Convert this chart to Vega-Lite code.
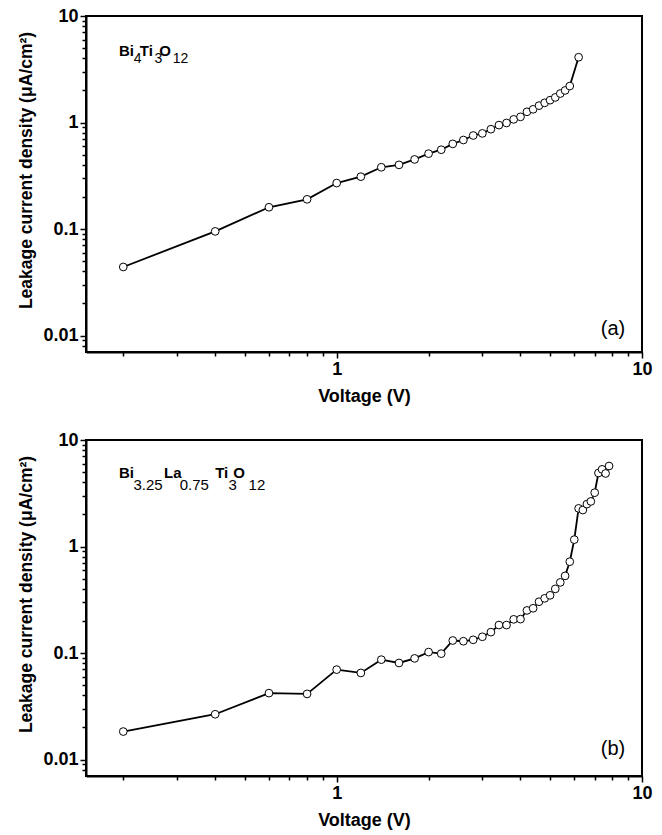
{
  "$schema": "https://vega.github.io/schema/vega-lite/v6.json",
  "background": "white",
  "padding": {"left": 16, "top": 6, "right": 10, "bottom": 5},
  "spacing": 24,
  "config": {
    "view": {"stroke": "black", "strokeWidth": 2},
    "font": "Liberation Sans"
  },
  "datasets": {
    "a": [
      {"V": 0.2, "J": 0.044}, {"V": 0.4, "J": 0.095}, {"V": 0.6, "J": 0.16}, {"V": 0.8, "J": 0.19},
      {"V": 1.0, "J": 0.27}, {"V": 1.2, "J": 0.31}, {"V": 1.4, "J": 0.38}, {"V": 1.6, "J": 0.40},
      {"V": 1.8, "J": 0.45}, {"V": 2.0, "J": 0.51}, {"V": 2.2, "J": 0.555}, {"V": 2.4, "J": 0.63},
      {"V": 2.6, "J": 0.685}, {"V": 2.8, "J": 0.755}, {"V": 3.0, "J": 0.79}, {"V": 3.2, "J": 0.865},
      {"V": 3.4, "J": 0.945}, {"V": 3.6, "J": 0.99}, {"V": 3.8, "J": 1.07}, {"V": 4.0, "J": 1.13},
      {"V": 4.2, "J": 1.26}, {"V": 4.4, "J": 1.33}, {"V": 4.6, "J": 1.44}, {"V": 4.8, "J": 1.53},
      {"V": 5.0, "J": 1.62}, {"V": 5.2, "J": 1.72}, {"V": 5.4, "J": 1.87}, {"V": 5.6, "J": 2.0},
      {"V": 5.8, "J": 2.2}, {"V": 6.2, "J": 4.1}
    ],
    "b": [
      {"V": 0.2, "J": 0.0183}, {"V": 0.4, "J": 0.0266}, {"V": 0.6, "J": 0.042}, {"V": 0.8, "J": 0.0413},
      {"V": 1.0, "J": 0.0698}, {"V": 1.2, "J": 0.065}, {"V": 1.4, "J": 0.0866}, {"V": 1.6, "J": 0.0806},
      {"V": 1.8, "J": 0.089}, {"V": 2.0, "J": 0.102}, {"V": 2.2, "J": 0.0986}, {"V": 2.4, "J": 0.131},
      {"V": 2.6, "J": 0.129}, {"V": 2.8, "J": 0.133}, {"V": 3.0, "J": 0.142}, {"V": 3.2, "J": 0.157},
      {"V": 3.4, "J": 0.183}, {"V": 3.6, "J": 0.183}, {"V": 3.8, "J": 0.207}, {"V": 4.0, "J": 0.208},
      {"V": 4.2, "J": 0.251}, {"V": 4.4, "J": 0.263}, {"V": 4.6, "J": 0.303}, {"V": 4.8, "J": 0.326},
      {"V": 5.0, "J": 0.348}, {"V": 5.2, "J": 0.40}, {"V": 5.4, "J": 0.46}, {"V": 5.6, "J": 0.53},
      {"V": 5.8, "J": 0.72}, {"V": 6.0, "J": 1.16}, {"V": 6.2, "J": 2.28}, {"V": 6.4, "J": 2.2},
      {"V": 6.6, "J": 2.5}, {"V": 6.8, "J": 2.65}, {"V": 7.0, "J": 3.2}, {"V": 7.2, "J": 4.9},
      {"V": 7.4, "J": 5.3}, {"V": 7.6, "J": 4.85}, {"V": 7.8, "J": 5.7}
    ],
    "labA": [
      {"text": "Bi", "kind": "main", "v": 0.1936, "j": 4.23},
      {"text": "4", "kind": "sub", "v": 0.2166, "j": 4.23},
      {"text": "Ti", "kind": "main", "v": 0.2266, "j": 4.23},
      {"text": "3", "kind": "sub", "v": 0.2529, "j": 4.23},
      {"text": "O", "kind": "main", "v": 0.2626, "j": 4.23},
      {"text": "12", "kind": "sub", "v": 0.2905, "j": 4.23},
      {"text": "(a)", "kind": "tag", "v": 8.81, "j": 0.0116}
    ],
    "labB": [
      {"text": "Bi", "kind": "main", "v": 0.1936, "j": 4.44},
      {"text": "3.25", "kind": "sub", "v": 0.2159, "j": 4.44},
      {"text": "La", "kind": "main", "v": 0.2721, "j": 4.44},
      {"text": "0.75", "kind": "sub", "v": 0.3061, "j": 4.44},
      {"text": "Ti", "kind": "main", "v": 0.3999, "j": 4.44},
      {"text": "3", "kind": "sub", "v": 0.4420, "j": 4.44},
      {"text": "O", "kind": "main", "v": 0.4581, "j": 4.44},
      {"text": "12", "kind": "sub", "v": 0.5145, "j": 4.44},
      {"text": "(b)", "kind": "tag", "v": 8.81, "j": 0.0125}
    ]
  },
  "vconcat": [
    {
      "width": 556,
      "height": 336,
      "layer": [
        {
          "data": {"name": "a"},
          "mark": {"type": "line", "color": "black", "strokeWidth": 1.8, "clip": true},
          "encoding": {
            "x": {"field": "V", "type": "quantitative",
              "scale": {"type": "log", "domain": [0.151, 10], "nice": false},
              "axis": {"orient": "bottom",
                "values": [0.2, 0.3, 0.4, 0.5, 0.6, 0.7, 0.8, 0.9, 1, 2, 3, 4, 5, 6, 7, 8, 9, 10],
                "format": "~g", "labelExpr": "(datum.value == 1 || datum.value == 10) ? datum.label : ''",
                "grid": false, "ticks": true,
                "tickSize": {"condition": {"test": "datum.value == 1 || datum.value == 10", "value": 6}, "value": 4},
                "tickWidth": 1.5, "tickColor": "black",
                "domain": true, "domainColor": "black", "domainWidth": 2,
                "labelFont": "Liberation Sans", "labelFontSize": 18, "labelFontWeight": "bold", "labelColor": "black",
                "labelPadding": 2, "labelFlush": false, "labelOverlap": false, "labelBound": false,
                "title": "Voltage (V)", "titleFont": "Liberation Sans", "titleFontSize": 18, "titleFontWeight": "bold",
                "titleColor": "black", "titlePadding": 9}},
            "y": {"field": "J", "type": "quantitative",
              "scale": {"type": "log", "domain": [0.007, 10], "nice": false},
              "axis": {"orient": "left",
                "values": [0.008, 0.009, 0.01, 0.02, 0.03, 0.04, 0.05, 0.06, 0.07, 0.08, 0.09, 0.1, 0.2, 0.3, 0.4, 0.5, 0.6, 0.7, 0.8, 0.9, 1, 2, 3, 4, 5, 6, 7, 8, 9, 10],
                "format": "~g",
                "labelExpr": "(datum.value == 0.01 || datum.value == 0.1 || datum.value == 1 || datum.value == 10) ? datum.label : ''",
                "grid": false, "ticks": true,
                "tickSize": {"condition": {"test": "datum.value == 0.01 || datum.value == 0.1 || datum.value == 1 || datum.value == 10", "value": 6}, "value": 4},
                "tickWidth": 1.5, "tickColor": "black",
                "domain": true, "domainColor": "black", "domainWidth": 2,
                "labelFont": "Liberation Sans", "labelFontSize": 18, "labelFontWeight": "bold", "labelColor": "black",
                "labelPadding": 2, "labelFlush": false, "labelOverlap": false, "labelBound": false,
                "title": "Leakage current density (μA/cm²)", "titleFont": "Liberation Sans", "titleFontSize": 17.5,
                "titleFontWeight": "bold", "titleColor": "black", "titlePadding": 7, "titleY": 154}}
          }
        },
        {
          "data": {"name": "a"},
          "mark": {"type": "point", "shape": "circle", "filled": false, "fill": "white", "fillOpacity": 1,
            "stroke": "black", "strokeWidth": 1, "size": 60, "opacity": 1},
          "encoding": {
            "x": {"field": "V", "type": "quantitative"},
            "y": {"field": "J", "type": "quantitative"}
          }
        },
        {
          "data": {"name": "labA"},
          "transform": [{"filter": "datum.kind == 'main'"}],
          "mark": {"type": "text", "align": "left", "baseline": "alphabetic", "font": "Liberation Sans",
            "fontWeight": "bold", "fontSize": 15, "color": "black"},
          "encoding": {
            "x": {"field": "v", "type": "quantitative"},
            "y": {"field": "j", "type": "quantitative"},
            "text": {"field": "text"}
          }
        },
        {
          "data": {"name": "labA"},
          "transform": [{"filter": "datum.kind == 'sub'"}],
          "mark": {"type": "text", "align": "left", "baseline": "alphabetic", "font": "Liberation Sans",
            "fontWeight": "normal", "fontSize": 14, "color": "black", "dy": 7},
          "encoding": {
            "x": {"field": "v", "type": "quantitative"},
            "y": {"field": "j", "type": "quantitative"},
            "text": {"field": "text"}
          }
        },
        {
          "data": {"name": "labA"},
          "transform": [{"filter": "datum.kind == 'tag'"}],
          "mark": {"type": "text", "align": "right", "baseline": "middle", "font": "Liberation Sans",
            "fontWeight": "normal", "fontSize": 20, "color": "black"},
          "encoding": {
            "x": {"field": "v", "type": "quantitative"},
            "y": {"field": "j", "type": "quantitative"},
            "text": {"field": "text"}
          }
        }
      ]
    },
    {
      "width": 556,
      "height": 336,
      "layer": [
        {
          "data": {"name": "b"},
          "mark": {"type": "line", "color": "black", "strokeWidth": 1.8, "clip": true},
          "encoding": {
            "x": {"field": "V", "type": "quantitative",
              "scale": {"type": "log", "domain": [0.151, 10], "nice": false},
              "axis": {"orient": "bottom",
                "values": [0.2, 0.3, 0.4, 0.5, 0.6, 0.7, 0.8, 0.9, 1, 2, 3, 4, 5, 6, 7, 8, 9, 10],
                "format": "~g", "labelExpr": "(datum.value == 1 || datum.value == 10) ? datum.label : ''",
                "grid": false, "ticks": true,
                "tickSize": {"condition": {"test": "datum.value == 1 || datum.value == 10", "value": 6}, "value": 4},
                "tickWidth": 1.5, "tickColor": "black",
                "domain": true, "domainColor": "black", "domainWidth": 2,
                "labelFont": "Liberation Sans", "labelFontSize": 18, "labelFontWeight": "bold", "labelColor": "black",
                "labelPadding": 2, "labelFlush": false, "labelOverlap": false, "labelBound": false,
                "title": "Voltage (V)", "titleFont": "Liberation Sans", "titleFontSize": 18, "titleFontWeight": "bold",
                "titleColor": "black", "titlePadding": 9}},
            "y": {"field": "J", "type": "quantitative",
              "scale": {"type": "log", "domain": [0.007, 10], "nice": false},
              "axis": {"orient": "left",
                "values": [0.008, 0.009, 0.01, 0.02, 0.03, 0.04, 0.05, 0.06, 0.07, 0.08, 0.09, 0.1, 0.2, 0.3, 0.4, 0.5, 0.6, 0.7, 0.8, 0.9, 1, 2, 3, 4, 5, 6, 7, 8, 9, 10],
                "format": "~g",
                "labelExpr": "(datum.value == 0.01 || datum.value == 0.1 || datum.value == 1 || datum.value == 10) ? datum.label : ''",
                "grid": false, "ticks": true,
                "tickSize": {"condition": {"test": "datum.value == 0.01 || datum.value == 0.1 || datum.value == 1 || datum.value == 10", "value": 6}, "value": 4},
                "tickWidth": 1.5, "tickColor": "black",
                "domain": true, "domainColor": "black", "domainWidth": 2,
                "labelFont": "Liberation Sans", "labelFontSize": 18, "labelFontWeight": "bold", "labelColor": "black",
                "labelPadding": 2, "labelFlush": false, "labelOverlap": false, "labelBound": false,
                "title": "Leakage current density (μA/cm²)", "titleFont": "Liberation Sans", "titleFontSize": 17.5,
                "titleFontWeight": "bold", "titleColor": "black", "titlePadding": 7, "titleY": 154}}
          }
        },
        {
          "data": {"name": "b"},
          "mark": {"type": "point", "shape": "circle", "filled": false, "fill": "white", "fillOpacity": 1,
            "stroke": "black", "strokeWidth": 1, "size": 60, "opacity": 1},
          "encoding": {
            "x": {"field": "V", "type": "quantitative"},
            "y": {"field": "J", "type": "quantitative"}
          }
        },
        {
          "data": {"name": "labB"},
          "transform": [{"filter": "datum.kind == 'main'"}],
          "mark": {"type": "text", "align": "left", "baseline": "alphabetic", "font": "Liberation Sans",
            "fontWeight": "bold", "fontSize": 15, "color": "black"},
          "encoding": {
            "x": {"field": "v", "type": "quantitative"},
            "y": {"field": "j", "type": "quantitative"},
            "text": {"field": "text"}
          }
        },
        {
          "data": {"name": "labB"},
          "transform": [{"filter": "datum.kind == 'sub'"}],
          "mark": {"type": "text", "align": "left", "baseline": "alphabetic", "font": "Liberation Sans",
            "fontWeight": "normal", "fontSize": 15, "color": "black", "dy": 12},
          "encoding": {
            "x": {"field": "v", "type": "quantitative"},
            "y": {"field": "j", "type": "quantitative"},
            "text": {"field": "text"}
          }
        },
        {
          "data": {"name": "labB"},
          "transform": [{"filter": "datum.kind == 'tag'"}],
          "mark": {"type": "text", "align": "right", "baseline": "middle", "font": "Liberation Sans",
            "fontWeight": "normal", "fontSize": 20, "color": "black"},
          "encoding": {
            "x": {"field": "v", "type": "quantitative"},
            "y": {"field": "j", "type": "quantitative"},
            "text": {"field": "text"}
          }
        }
      ]
    }
  ]
}
